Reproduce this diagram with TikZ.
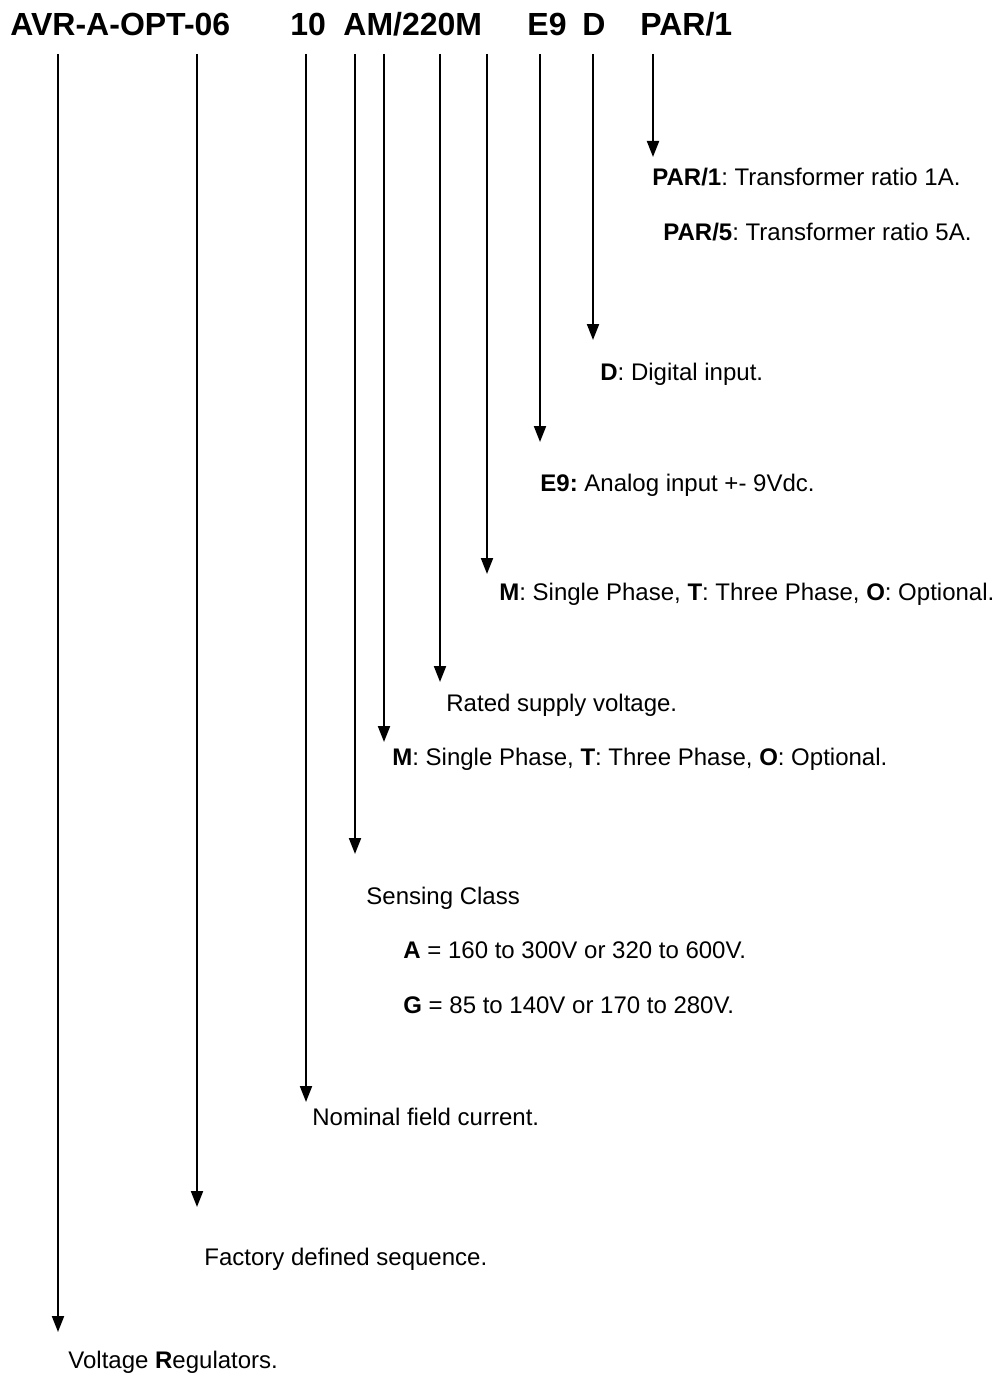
\documentclass[tikz,border=0pt]{standalone}
\usepackage{fontspec}
\setmainfont{Liberation Sans}
\usetikzlibrary{arrows.meta}
\frenchspacing
\begin{document}
\begin{tikzpicture}[x=0.5pt, y=-0.5pt,
  every node/.style={inner sep=0pt, anchor=base west, font=\fontsize{12}{14}\selectfont},
  code/.style={font=\fontsize{16}{19}\selectfont\bfseries},
  lead/.style={line width=1pt, -{Triangle[length=8pt,width=6pt]}}]
  \useasboundingbox (0,0) rectangle (1000,1380);
  % type code
  \node[code] (hAVR) at (10,36) {AVR-A-OPT-06};
  \node[code] (hTen) at (290,36) {10};
  \node[code] (hAM) at (343,36) {AM/220M};
  \node[code] (hE) at (527,36) {E9};
  \node[code] (hD) at (582,36) {D};
  \node[code] (hPAR) at (640,36) {PAR/1};
  % leaders
  \foreach \x/\y/\n in {58/1332/r, 197/1207/seq, 306/1102/cur, 355/854/cls, 384/742/ph,
    440/682/sup, 487/574/ph2, 540/442/ana, 593/340/dig, 653/157/par} {
    \coordinate (top\n) at (\x,54);
    \coordinate (tip\n) at (\x,\y);
    \draw[lead] (top\n) -- (tip\n);
  }
  % descriptions
  \node (lPar1) at (652,186) {\textbf{PAR/1}: Transformer ratio 1A.};
  \node (lPar5) at (663,241) {\textbf{PAR/5}: Transformer ratio 5A.};
  \node (lDig) at (600,380) {\textbf{D}: Digital input.};
  \node (lAna) at (540,491) {\textbf{E9:} Analog input +- 9Vdc.};
  \node (lPh2) at (499,600) {\textbf{M}: Single Phase, \textbf{T}: Three Phase, \textbf{O}: Optional.};
  \node (lSup) at (446,711) {Rated supply voltage.};
  \node (lPh) at (392,765) {\textbf{M}: Single Phase, \textbf{T}: Three Phase, \textbf{O}: Optional.};
  \node (lCls) at (366,904) {Sensing Class};
  \node (lClsA) at (403,958) {\textbf{A} = 160 to 300V or 320 to 600V.};
  \node (lClsG) at (403,1013) {\textbf{G} = 85 to 140V or 170 to 280V.};
  \node (lCur) at (312,1125) {Nominal field current.};
  \node (lSeq) at (204,1265) {Factory defined sequence.};
  \node (lR) at (68,1368) {Voltage \textbf{R}egulators.};
\end{tikzpicture}
\end{document}
